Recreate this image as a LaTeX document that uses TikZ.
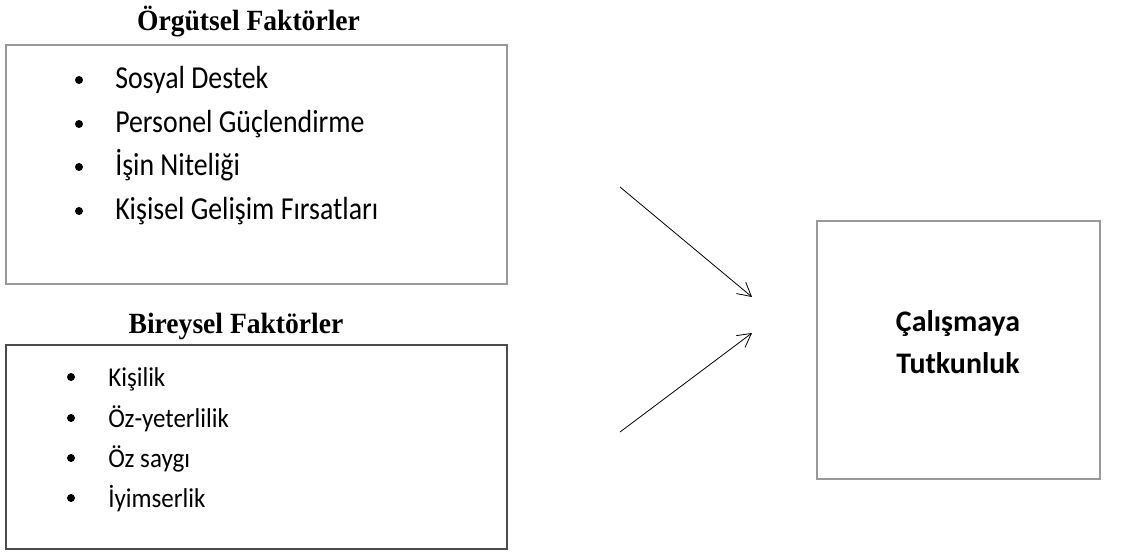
\documentclass[tikz,border=0pt]{standalone}
\usepackage{fontspec}
\setmainfont{Carlito}
\newfontfamily\headfont[FakeStretch=0.94]{Liberation Serif}
\newfontfamily\bigfont[FakeStretch=0.87]{Carlito}
\newfontfamily\smallfont[FakeStretch=0.92]{Carlito}
\usetikzlibrary{arrows.meta}
\tikzset{panel/.style={draw=black!40,line width=1.5pt,inner sep=0pt}}
\tikzset{darkpanel/.style={draw=black!70,line width=1.5pt,inner sep=0pt}}
\tikzset{head/.style={anchor=base,inner sep=0pt,font=\headfont\bfseries\fontsize{22}{26}\selectfont}}
\tikzset{bigitem/.style={anchor=base west,inner sep=0pt,font=\bigfont\fontsize{24}{28}\selectfont}}
\tikzset{smallitem/.style={anchor=base west,inner sep=0pt,font=\smallfont\fontsize{20.4}{24}\selectfont}}
\tikzset{dot/.style={circle,fill,inner sep=0pt,minimum size=6pt}}
\tikzset{link/.style={-{Straight Barb[length=10pt,width=11pt]},line width=.6pt}}

\begin{document}
\begin{tikzpicture}[x=0.75pt,y=-0.75pt]
    \useasboundingbox (0,0) rectangle (1140,556);
    % organisational factors
    \node[head] (orgtitle) at (248.5,31) {Örgütsel Faktörler};
    \node[panel,minimum width=375.75pt,minimum height=179.25pt] (org) at (256.5,164.5) {};
    \node[dot] (od1) at (79,80) {};
    \node[dot] (od2) at (79,124) {};
    \node[dot] (od3) at (79,167) {};
    \node[dot] (od4) at (79,211) {};
    \node[bigitem] (support) at (115,89) {Sosyal Destek};
    \node[bigitem] (empower) at (115,133) {Personel Güçlendirme};
    \node[bigitem] (job) at (115,176) {İşin Niteliği};
    \node[bigitem] (growth) at (115,220) {Kişisel Gelişim Fırsatları};
    % individual factors
    \node[head] (indtitle) at (236,334) {Bireysel Faktörler};
    \node[darkpanel,minimum width=375.75pt,minimum height=153pt] (ind) at (256.5,447) {};
    \node[dot] (id1) at (71,377) {};
    \node[dot] (id2) at (71,418) {};
    \node[dot] (id3) at (71,458) {};
    \node[dot] (id4) at (71,498) {};
    \node[smallitem] (pers) at (108,386) {Kişilik};
    \node[smallitem] (effic) at (108,427) {Öz-yeterlilik};
    \node[smallitem] (esteem) at (108,467) {Öz saygı};
    \node[smallitem] (optim) at (108,507) {İyimserlik};
    % outcome
    \node[panel,minimum width=212.25pt,minimum height=193.5pt] (passion) at (958.5,350) {};
    \node[align=center,font=\bfseries\fontsize{22.4}{31.5}\selectfont] (passtext) at (958,342) {Çalışmaya\\Tutkunluk};
    \coordinate (a1) at (620,187);
    \coordinate (e1) at (752,297);
    \coordinate (a2) at (620,432);
    \coordinate (e2) at (752,333);
    \draw[link] (a1) -- (e1);
    \draw[link] (a2) -- (e2);
\end{tikzpicture}
\end{document}
